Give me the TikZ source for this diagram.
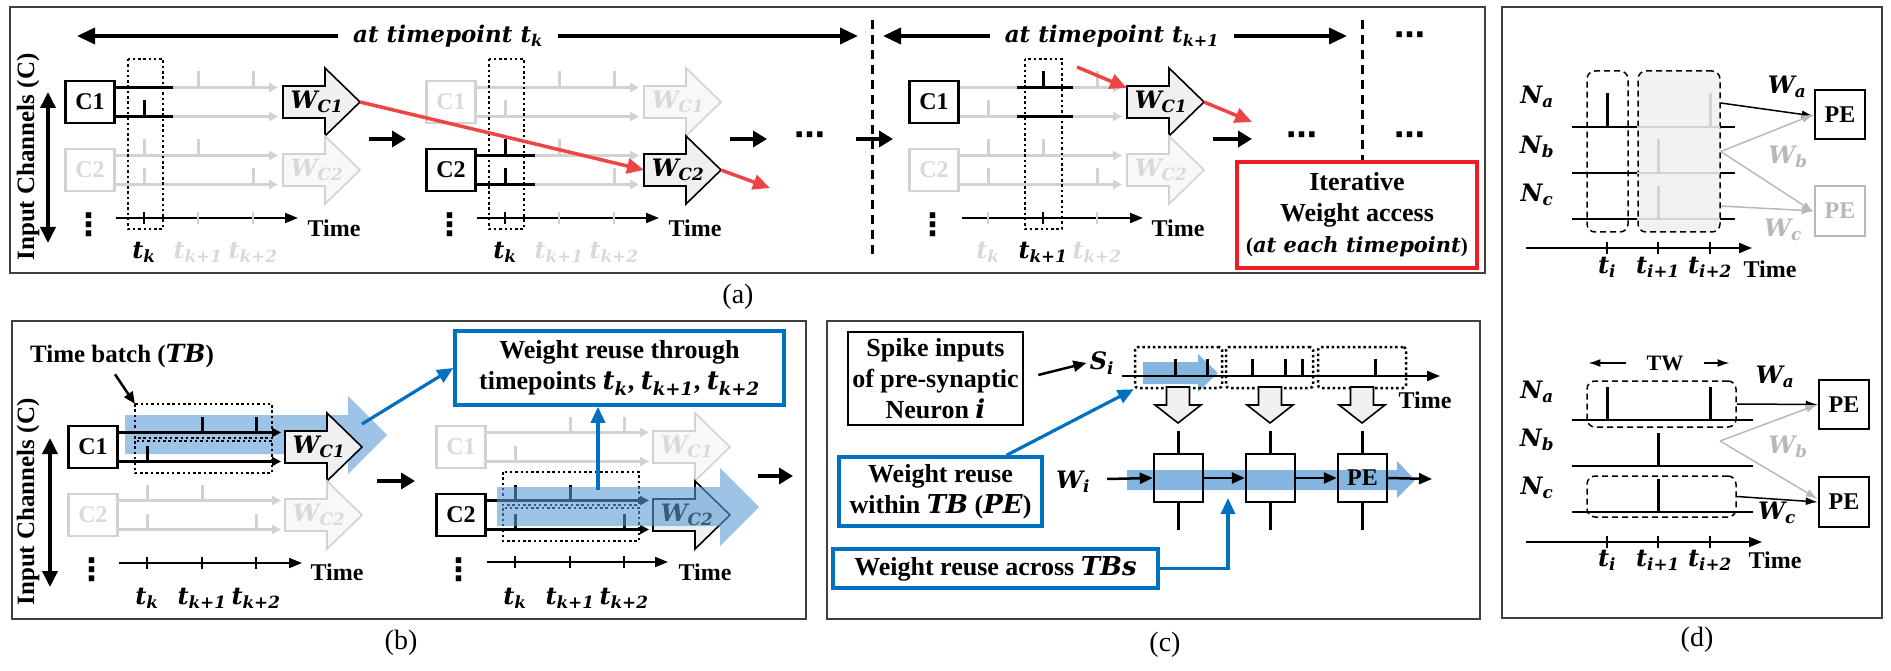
\documentclass[tikz,border=0pt]{standalone}
\usepackage{fontspec}
\setmainfont{Liberation Serif}
\newfontfamily\mfont{DejaVu Serif}
\newfontfamily\dotfont{DejaVu Sans}
\usetikzlibrary{positioning, arrows.meta, calc}

\definecolor{offgray}{HTML}{D2D2D2}
\definecolor{offtext}{HTML}{D9D9D9}
\definecolor{wfill}{HTML}{F0F0F0}
\definecolor{wofffill}{HTML}{F8F8F8}
\definecolor{redline}{HTML}{EE4444}
\definecolor{redbox}{HTML}{EE1C25}
\definecolor{boxblue}{HTML}{0070C0}
\definecolor{bandblue}{HTML}{5B9BD5}
\definecolor{dgray}{HTML}{B8B8B8}
\definecolor{framegray}{HTML}{404040}
\definecolor{winfill}{HTML}{F2F2F2}

\newcommand{\mi}[1]{{\mfont\bfseries\itshape #1}}
\newcommand{\msub}[2]{\mi{#1}\textsubscript{\mi{#2}}}
\newcommand{\vdts}{{\dotfont\bfseries ⋮}}
\newcommand{\hdts}{{\dotfont\bfseries ⋯}}
% weight arrow: name, x, y, style, label
\newcommand{\wblk}[5]{%
  \draw[wshape,#4] (#2,#3-16) -- ++(42,0) -- ++(0,-18) -- ++(35,34)
    -- ++(-35,34) -- ++(0,-18) -- ++(-42,0) -- cycle;
  \node[wlabel,#4,draw=none,fill=none] (#1) at (#2+34,#3) {#5};
  \coordinate (#1in) at (#2,#3);
  \coordinate (#1tip) at (#2+77,#3);
}

\begin{document}
\begin{tikzpicture}[
    x=1pt, y=-1pt,
    font=\fontsize{24}{29}\selectfont\bfseries,
    frame/.style={draw=framegray, line width=2pt},
    chbox/.style={draw, line width=2.5pt, minimum width=49pt,
        minimum height=42pt, inner sep=0pt},
    off/.style={draw=offgray, text=offtext},
    wire/.style={line width=2.2pt, -{Triangle[length=9pt,width=9pt]}},
    seg/.style={line width=2.6pt},
    spk/.style={line width=3pt},
    taxis/.style={line width=2pt, -{Triangle[length=13pt,width=10pt]}},
    tick/.style={line width=2.5pt},
    dotbox/.style={line width=2.5pt, dash pattern=on 2.5pt off 2.8pt},
    wshape/.style={draw, line width=1.6pt, fill=wfill},
    woff/.style={draw=offgray, fill=wofffill, text=offtext},
    wlabel/.style={inner sep=0pt},
    stepar/.style={line width=4pt, -{Triangle[length=14pt,width=16pt]}},
    toparr/.style={line width=3.5pt, -{Triangle[length=18pt,width=16pt]}},
    chanar/.style={line width=3.5pt,
        {Triangle[length=16pt,width=15pt]}-{Triangle[length=16pt,width=15pt]}},
    bigdash/.style={line width=3pt, dash pattern=on 9pt off 6pt},
    redar/.style={redline, line width=3.5pt, -{Triangle[length=17pt,width=15pt]}},
    bluear/.style={boxblue, line width=3.2pt, -{Triangle[length=16pt,width=14pt]}},
    ptr/.style={line width=2.5pt, -{Triangle[length=12pt,width=10pt]}},
    arr/.style={line width=2.5pt, -{Triangle[length=13pt,width=11pt]}},
    thinar/.style={line width=1.5pt, -{Latex[length=12pt,width=8pt]}},
    txtbox/.style={draw, line width=2.5pt, align=center, inner sep=0pt,
        font=\fontsize{26}{31}\selectfont\bfseries},
    bluebox/.style={txtbox, draw=boxblue, line width=3.5pt},
    band/.style={fill=bandblue, fill opacity=0.6, draw=none},
    pebox/.style={draw, line width=2.5pt, minimum width=49pt,
        minimum height=48pt, inner sep=0pt},
    downar/.style={draw, line width=1.6pt, fill=wfill},
    dashbox/.style={draw, line width=1.5pt, dash pattern=on 6pt off 4pt,
        rounded corners=8pt, inner sep=0pt},
    dline/.style={line width=2.5pt},
    dgr/.style={draw=dgray, text=dgray},
    chlabel/.style={rotate=90, font=\fontsize{25}{29}\selectfont\bfseries},
    dots/.style={font=\fontsize{31}{33}\selectfont, inner sep=0pt},
    sublabel/.style={font=\fontsize{28}{32}\selectfont}
]
\useasboundingbox (0,0) rectangle (1891,671);

% ================= (a) iterative weight access =================
\draw[frame] (10,7) rectangle (1485,273);
\node[chlabel] (ainch) at (28,157) {Input Channels (C)};
\draw[chanar] (48,92) -- (48,243);

% timepoint spans
\node[inner xsep=15pt, font=\fontsize{23}{27}\selectfont] (atk) at (448,36)
    {\mi{at timepoint }\msub{t}{k}};
\draw[toparr] (atk.west) -- (77,36);
\draw[toparr] (atk.east) -- (858,36);
\node[inner xsep=15pt, font=\fontsize{23}{27}\selectfont] (atk1) at (1112,36)
    {\mi{at timepoint }\msub{t}{k+1}};
\draw[toparr] (atk1.west) -- (883,36);
\draw[toparr] (atk1.east) -- (1347,36);
\draw[bigdash] (872,20) -- (872,257);
\draw[bigdash] (1362,20) -- (1362,163);

% group a1: C1 at t_k
\begin{scope}[shift={(90,102)}]
  \foreach \y in {-14.5,14.5,53.5,82.5}
    \draw[wire, offgray] (24.5,\y) -- (188,\y);
  \foreach \y in {-14.5,14.5}
    \draw[seg] (24.5,\y) -- (83,\y);
  \foreach \x in {108,163} \draw[spk, offgray] (\x,-14.5) -- ++(0,-16);
  \draw[spk] (54,14.5) -- ++(0,-16);
  \foreach \x in {54,108} \draw[spk, offgray] (\x,53.5) -- ++(0,-16);
  \foreach \x in {54,163} \draw[spk, offgray] (\x,82.5) -- ++(0,-16);
  \node[chbox] (a1c1) at (0,0) {C1};
  \node[chbox, off] (a1c2) at (0,68) {C2};
  \wblk{a1w1}{193}{0}{}{\msub{W}{C1}}
  \wblk{a1w2}{193}{68}{woff}{\msub{W}{C2}}
  \draw[taxis] (26,116) -- (208,116);
  \draw[tick] (54,110) -- (54,122);
  \foreach \x in {108,163} \draw[tick, offgray] (\x,110) -- (\x,122);
  \node (a1t0) at (54,150) {\msub{t}{k}};
  \node[text=offtext] (a1t1) at (108,150) {\msub{t}{k+1}};
  \node[text=offtext] (a1t2) at (163,150) {\msub{t}{k+2}};
  \node (a1time) at (244,126) {Time};
  \node[dots] (a1vd) at (-1,123) {\vdts};
  \draw[dotbox] (38,-43) rectangle (73,127);
\end{scope}

% group a2: C2 at t_k
\begin{scope}[shift={(451,102)}]
  \foreach \y in {-14.5,14.5,53.5,82.5}
    \draw[wire, offgray] (24.5,\y) -- (188,\y);
  \foreach \y in {53.5,82.5}
    \draw[seg] (24.5,\y) -- (84,\y);
  \foreach \x in {108,163} \draw[spk, offgray] (\x,-14.5) -- ++(0,-16);
  \draw[spk, offgray] (54,14.5) -- ++(0,-16);
  \draw[spk] (54,53.5) -- ++(0,-16);
  \draw[spk, offgray] (108,53.5) -- ++(0,-16);
  \draw[spk] (54,82.5) -- ++(0,-16);
  \draw[spk, offgray] (163,82.5) -- ++(0,-16);
  \node[chbox, off] (a2c1) at (0,0) {C1};
  \node[chbox] (a2c2) at (0,68) {C2};
  \wblk{a2w1}{193}{0}{woff}{\msub{W}{C1}}
  \wblk{a2w2}{193}{68}{}{\msub{W}{C2}}
  \draw[taxis] (26,116) -- (208,116);
  \draw[tick] (54,110) -- (54,122);
  \foreach \x in {108,163} \draw[tick, offgray] (\x,110) -- (\x,122);
  \node (a2t0) at (54,150) {\msub{t}{k}};
  \node[text=offtext] (a2t1) at (108,150) {\msub{t}{k+1}};
  \node[text=offtext] (a2t2) at (163,150) {\msub{t}{k+2}};
  \node (a2time) at (244,126) {Time};
  \node[dots] (a2vd) at (-1,123) {\vdts};
  \draw[dotbox] (38,-43) rectangle (73,127);
\end{scope}

% group a3: C1 at t_{k+1}
\begin{scope}[shift={(934,102)}]
  \foreach \y in {-14.5,14.5,53.5,82.5}
    \draw[wire, offgray] (24.5,\y) -- (188,\y);
  \foreach \y in {-14.5,14.5}
    \draw[seg] (83,\y) -- (139,\y);
  \draw[spk] (109,-14.5) -- ++(0,-16);
  \draw[spk, offgray] (163,-14.5) -- ++(0,-16);
  \draw[spk, offgray] (54,14.5) -- ++(0,-16);
  \foreach \x in {54,109} \draw[spk, offgray] (\x,53.5) -- ++(0,-16);
  \foreach \x in {54,163} \draw[spk, offgray] (\x,82.5) -- ++(0,-16);
  \node[chbox] (a3c1) at (0,0) {C1};
  \node[chbox, off] (a3c2) at (0,68) {C2};
  \wblk{a3w1}{193}{0}{}{\msub{W}{C1}}
  \wblk{a3w2}{193}{68}{woff}{\msub{W}{C2}}
  \draw[taxis] (28,116) -- (209,116);
  \draw[tick] (109,110) -- (109,122);
  \foreach \x in {54,163} \draw[tick, offgray] (\x,110) -- (\x,122);
  \node[text=offtext] (a3t0) at (54,150) {\msub{t}{k}};
  \node (a3t1) at (109,150) {\msub{t}{k+1}};
  \node[text=offtext] (a3t2) at (163,150) {\msub{t}{k+2}};
  \node (a3time) at (244,126) {Time};
  \node[dots] (a3vd) at (-1,123) {\vdts};
  \draw[dotbox] (91,-43) rectangle (128,127);
\end{scope}

% steps between groups
\draw[stepar] (369,139) -- (406,139);
\draw[stepar] (730,139) -- (767,139);
\node[dots] (adots1) at (810,139) {\hdts};
\draw[stepar] (856,139) -- (893,139);
\draw[stepar] (1213,139) -- (1252,139);
\node[dots] (adots2) at (1302,139) {\hdts};
\node[dots] (adots3) at (1410,39) {\hdts};
\node[dots] (adots4) at (1410,139) {\hdts};

% iterative weight fetches
\draw[redar] (a1w1tip) -- (a2w2in);
\draw[redar] (a2w2tip) -- (770,188);
\draw[redar] (1077,67) -- ([yshift=14pt]a3w1in);
\draw[redar] (a3w1tip) -- (1252,122);

\node[txtbox, draw=redbox, line width=3.5pt, fill=white,
      minimum width=240pt, minimum height=106pt] (ibox) at (1357,215)
    {Iterative\\Weight access\\{\fontsize{21}{26}\selectfont(\mi{at each timepoint})}};

\node[sublabel] (laba) at (738,297) {(a)};

% ================= (b) time batch =================
\draw[frame] (12,321) rectangle (806,619);
\node[chlabel] (binch) at (28,502) {Input Channels (C)};
\draw[chanar] (50,438) -- (50,587);
\node[font=\fontsize{25}{29}\selectfont\bfseries] (tbl) at (122,356)
    {Time batch (\mi{TB})};

% reuse band behind C1
\fill[band] (125,415) -- (348,415) -- (348,396) -- (387,435) -- (348,474)
    -- (348,454) -- (125,454) -- cycle;

% group b1
\begin{scope}[shift={(93,447)}]
  \foreach \y in {-14.5,14.5} \draw[wire] (24.5,\y) -- (188,\y);
  \foreach \y in {53.5,82.5} \draw[wire, offgray] (24.5,\y) -- (188,\y);
  \foreach \x in {109,163} \draw[spk] (\x,-14.5) -- ++(0,-16);
  \draw[spk] (54,14.5) -- ++(0,-16);
  \foreach \x in {54,109} \draw[spk, offgray] (\x,53.5) -- ++(0,-16);
  \foreach \x in {54,163} \draw[spk, offgray] (\x,82.5) -- ++(0,-16);
  \node[chbox] (b1c1) at (0,0) {C1};
  \node[chbox, off] (b1c2) at (0,68) {C2};
  \wblk{b1w1}{192}{0}{}{\msub{W}{C1}}
  \wblk{b1w2}{192}{68}{woff}{\msub{W}{C2}}
  \draw[taxis] (26,116) -- (209,116);
  \foreach \x in {54,109,163} \draw[tick] (\x,110) -- (\x,122);
  \node (b1t0) at (54,151) {\msub{t}{k}};
  \node (b1t1) at (109,151) {\msub{t}{k+1}};
  \node (b1t2) at (163,151) {\msub{t}{k+2}};
  \node (b1time) at (244,125) {Time};
  \node[dots] (b1vd) at (-1,123) {\vdts};
  \draw[dotbox] (42,-43) rectangle (179,-9);
  \draw[dotbox] (42,-6) rectangle (179,26);
  \coordinate (b1tb) at (42,-43);
\end{scope}
\draw[ptr] ([xshift=-7pt,yshift=-3pt]tbl.south) -- (b1tb);

% group b2
\begin{scope}[shift={(461,447)}]
  \foreach \y in {-14.5,14.5} \draw[wire, offgray] (24.5,\y) -- (188,\y);
  \foreach \y in {53.5,82.5} \draw[wire] (24.5,\y) -- (188,\y);
  \foreach \x in {109,163} \draw[spk, offgray] (\x,-14.5) -- ++(0,-16);
  \draw[spk, offgray] (54,14.5) -- ++(0,-16);
  \foreach \x in {54,109} \draw[spk] (\x,53.5) -- ++(0,-16);
  \foreach \x in {54,163} \draw[spk] (\x,82.5) -- ++(0,-16);
  \node[chbox, off] (b2c1) at (0,0) {C1};
  \node[chbox] (b2c2) at (0,68) {C2};
  \wblk{b2w1}{192}{0}{woff}{\msub{W}{C1}}
  \wblk{b2w2}{192}{68}{}{\msub{W}{C2}}
  \draw[taxis] (26,115) -- (207,115);
  \foreach \x in {54,109,163} \draw[tick] (\x,109) -- (\x,121);
  \node (b2t0) at (54,151) {\msub{t}{k}};
  \node (b2t1) at (109,151) {\msub{t}{k+1}};
  \node (b2t2) at (163,151) {\msub{t}{k+2}};
  \node (b2time) at (244,125) {Time};
  \node[dots] (b2vd) at (-2,123) {\vdts};
  \draw[dotbox] (42,25) rectangle (178,58);
  \draw[dotbox] (42,61) rectangle (178,94);
  \coordinate (b2up) at (137,43);
\end{scope}

% reuse band over C2
\fill[band] (497,487) -- (720,487) -- (720,468) -- (759,507) -- (720,546)
    -- (720,526) -- (497,526) -- cycle;

\node[bluebox, minimum width=329pt, minimum height=74pt] (wr) at (619.5,368)
    {Weight reuse through\\timepoints \msub{t}{k}, \msub{t}{k+1}, \msub{t}{k+2}};
\draw[bluear] ([yshift=23pt]b1w1tip) -- (wr.west);
\draw[bluear] (b2up) -- (b2up |- wr.south);

\draw[stepar] (377,481) -- (415,481);
\draw[stepar] (758,476) -- (793,476);

\node[sublabel] (labb) at (401,643) {(b)};

% ================= (c) PE dataflow =================
\draw[frame] (827,321) rectangle (1480,619);
\node[txtbox, minimum width=175pt, minimum height=93pt] (spkin) at (935.5,378.5)
    {Spike inputs\\of pre-synaptic\\Neuron \mi{i}};
\node (si) at (1102,363) {\msub{S}{i}};
\draw[arr] ([xshift=14pt,yshift=3.5pt]spkin.east) -- (si.west);

% spike train split into time batches
\fill[band, fill opacity=0.75] (1143,362) -- (1198,362) -- (1198,354) -- (1218,373)
    -- (1198,392) -- (1198,384) -- (1143,384) -- cycle;
\draw[taxis] (1122,376) -- (1440,376);
\foreach \x in {1175,1207,1252,1285,1302,1375}
  \draw[spk] (\x,376) -- (\x,359);
\node[draw, dotbox, rounded corners=3pt, minimum width=87pt, minimum height=41pt]
    (tb1) at (1178.5,367.5) {};
\node[draw, dotbox, rounded corners=3pt, minimum width=87pt, minimum height=41pt]
    (tb2) at (1269.5,367.5) {};
\node[draw, dotbox, rounded corners=3pt, minimum width=88pt, minimum height=41pt]
    (tb3) at (1362,367.5) {};
\node (ctime) at (1425,400) {Time};

\foreach \x in {1178,1270,1362}
  \draw[downar] (\x-11.5,387) -- (\x+11.5,387) -- (\x+11.5,405) -- (\x+23,405)
    -- (\x,423) -- (\x-23,405) -- (\x-11.5,405) -- cycle;

% weight stays in the PE chain
\fill[band, fill opacity=0.75] (1127,470) -- (1397,470) -- (1397,461) -- (1415,480)
    -- (1397,498) -- (1397,490) -- (1127,490) -- cycle;
\node[pebox] (pe1) at (1178.5,478) {};
\node[pebox] (pe2) at (1270.5,478) {};
\node[pebox] (pe3) at (1362.5,478) {PE};
\foreach \p in {pe1,pe2,pe3} {
  \draw[tick] (\p.north) -- ++(0,-22);
  \draw[tick] (\p.south) -- ++(0,27);
}
\node (wi) at (1073,482) {\msub{W}{i}};
\coordinate (wiout) at (1107,479);
\coordinate (peout) at (1432,479);
\draw[arr] (wiout) -- (pe1.west);
\draw[arr] (pe1.east) -- (pe2.west);
\draw[arr] (pe2.east) -- (pe3.west);
\draw[arr] (pe3.east) -- (peout);

\node[bluebox, minimum width=203pt, minimum height=69pt] (tbpe) at (940.5,491.5)
    {Weight reuse\\within \mi{TB} (\mi{PE})};
\draw[bluear] ([xshift=66pt]tbpe.north) -- (tb1.south west);
\node[bluebox, minimum width=325pt, minimum height=39pt] (tbs) at (995.5,568.5)
    {Weight reuse across \mi{TBs}};
\coordinate (tbsup) at (1228,498);
\draw[bluear] (tbs.east) -| (tbsup);

\node[sublabel] (labc) at (1165,645) {(c)};

% ================= (d) time window =================
\draw[frame] (1502,7) rectangle (1882,618);

% top: per-timepoint
\node[dashbox, fill=winfill, minimum width=82pt, minimum height=161pt]
    (dwin2) at (1679,151.5) {};
\node[dashbox, minimum width=41pt, minimum height=161pt]
    (dwin1) at (1607.5,151.5) {};
\foreach \y in {127,173,219} {
  \draw[dline] (1572,\y) -- (1637,\y);
  \draw[dline, offgray] (1637,\y) -- (1720,\y);
  \draw[dline] (1720,\y) -- (1735,\y);
}
\draw[spk] (1607,127) -- (1607,93);
\draw[spk, offgray] (1710,127) -- (1710,93);
\draw[spk, offgray] (1658,173) -- (1658,139);
\draw[spk, offgray] (1658,219) -- (1658,186);
\node (dna1) at (1537,97) {\msub{N}{a}};
\node (dnb1) at (1537,147) {\msub{N}{b}};
\node (dnc1) at (1537,195) {\msub{N}{c}};
\draw[taxis] (1526,248) -- (1752,248);
\foreach \x in {1607,1658,1710} \draw[tick] (\x,242) -- (\x,254);
\node (dti1) at (1607,267) {\msub{t}{i}};
\node (dti2) at (1658,267) {\msub{t}{i+1}};
\node (dti3) at (1710,267) {\msub{t}{i+2}};
\node (dtime1) at (1770,269) {Time};
\node[pebox, minimum width=50pt, minimum height=49pt] (dpe1) at (1840,114.5) {PE};
\node[pebox, dgr, minimum width=50pt, minimum height=50pt] (dpe2) at (1840,211) {PE};
\node (dwa1) at (1787,87) {\msub{W}{a}};
\node[text=dgray] (dwb1) at (1788,157) {\msub{W}{b}};
\node[text=dgray] (dwc1) at (1783,230) {\msub{W}{c}};
\draw[thinar] ([yshift=48.5pt]dwin2.east) -- ([yshift=-1.5pt]dpe1.west);
\draw[thinar, dgray] (dwin2.east) -- (dpe1.west);
\draw[thinar, dgray] (dwin2.east) -- ([yshift=-1pt]dpe2.west);
\draw[thinar, dgray] ([yshift=-54.5pt]dwin2.east) -- (dpe2.west);

% bottom: time window
\node[inner xsep=20pt, font=\fontsize{22}{26}\selectfont\bfseries] (tw) at (1665,363) {TW};
\draw[thinar] (tw.west) -- ++(-38,0);
\draw[thinar] (tw.east) -- ++(26,0);
\foreach \y in {420,466,512} \draw[dline] (1572,\y) -- (1753,\y);
\foreach \x in {1607,1710} \draw[spk] (\x,420) -- (\x,387);
\draw[spk] (1658,466) -- (1658,433);
\draw[spk] (1658,512) -- (1658,479);
\node[dashbox, minimum width=149pt, minimum height=46pt] (dwa) at (1661.5,404) {};
\node[dashbox, minimum width=149pt, minimum height=41pt] (dwc) at (1661.5,496.5) {};
\node (dna2) at (1537,392) {\msub{N}{a}};
\node (dnb2) at (1537,440) {\msub{N}{b}};
\node (dnc2) at (1537,488) {\msub{N}{c}};
\draw[taxis] (1526,542) -- (1762,542);
\foreach \x in {1607,1658,1710} \draw[tick] (\x,536) -- (\x,548);
\node (dti4) at (1607,560) {\msub{t}{i}};
\node (dti5) at (1658,560) {\msub{t}{i+1}};
\node (dti6) at (1710,560) {\msub{t}{i+2}};
\node (dtime2) at (1775,560) {Time};
\node[pebox, minimum width=50pt, minimum height=49pt] (dpe3) at (1844,404.5) {PE};
\node[pebox, minimum width=50pt, minimum height=50pt] (dpe4) at (1844,502) {PE};
\node (dwa2) at (1775,377) {\msub{W}{a}};
\node[text=dgray] (dwb2) at (1788,447) {\msub{W}{b}};
\node (dwc2) at (1777,513) {\msub{W}{c}};
\coordinate (dnbout) at (1720,441);
\draw[thinar] (dwa.east) -- (dpe3.west);
\draw[thinar, dgray] (dnbout) -- (dpe3.west);
\draw[thinar, dgray] (dnbout) -- ([yshift=3pt]dpe4.west);
\draw[thinar] (dwc.east) -- (dpe4.west);

\node[sublabel] (labd) at (1697,640) {(d)};
\end{tikzpicture}
\end{document}
